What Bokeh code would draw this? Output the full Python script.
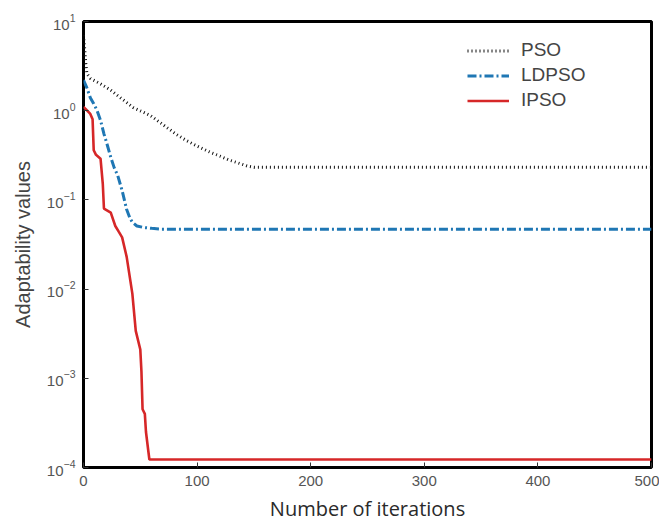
from bokeh.plotting import figure
from bokeh.models import FixedTicker, Range1d
from bokeh.embed import file_html
from bokeh.resources import INLINE

# Data
pso_iter = [0, 1, 2, 3, 6, 15, 24, 34, 44, 52, 59, 66, 74, 82, 91, 97, 103, 112, 120, 128, 136, 144, 150, 200, 300, 400, 500]
pso_val = [7.0, 5.0, 3.4, 2.6, 2.3, 2.0, 1.7, 1.35, 1.08, 0.97, 0.88, 0.76, 0.64, 0.54, 0.46, 0.42, 0.385, 0.34, 0.31, 0.28, 0.26, 0.24, 0.232, 0.232, 0.232, 0.232, 0.232]

ldpso_iter = [0, 3, 6, 9, 12, 15, 18, 21, 24, 27, 30, 34, 38, 41, 43, 47, 53, 60, 68, 100, 200, 300, 400, 500]
ldpso_val = [2.2, 1.8, 1.4, 1.2, 1.0, 0.78, 0.55, 0.41, 0.30, 0.23, 0.19, 0.127, 0.078, 0.062, 0.056, 0.051, 0.049, 0.048, 0.047, 0.047, 0.047, 0.047, 0.047, 0.047]

ipso_iter = [0, 2, 6, 8, 9, 11, 15, 17, 18, 21, 24, 28, 31, 34, 38, 43, 46, 50, 51, 52, 54, 55, 57, 58, 60, 100, 200, 300, 400, 500]
ipso_val = [1.1, 1.04, 0.92, 0.80, 0.36, 0.32, 0.29, 0.15, 0.080, 0.076, 0.072, 0.051, 0.044, 0.038, 0.023, 0.0089, 0.0034, 0.0021, 0.0012, 0.00045, 0.0004, 0.00025, 0.000155, 0.000123, 0.000123, 0.000123, 0.000123, 0.000123, 0.000123, 0.000123]

x_ticks = [0, 100, 200, 300, 400, 500]
y_ticks = [1e-4, 1e-3, 1e-2, 1e-1, 1e0, 1e1]

p = figure(
    frame_width=568, frame_height=446,
    min_border_left=83, min_border_right=8, min_border_top=21, min_border_bottom=50,
    y_axis_type="log",
    x_range=Range1d(0, 500), y_range=Range1d(1e-4, 10),
    output_backend="svg", toolbar_location=None,
)

p.line(pso_iter, pso_val, line_color="#111111", line_width=3, line_dash="1 3", legend_label="PSO")
p.line(ldpso_iter, ldpso_val, line_color="#1f77b4", line_width=3, line_dash="9 3 2 3", legend_label="LDPSO")
p.line(ipso_iter, ipso_val, line_color="#d62728", line_width=2.6, legend_label="IPSO")

p.grid.visible = False
p.outline_line_color = "black"
p.outline_line_width = 3
p.outline_line_alpha = 1.0

p.xaxis.ticker = FixedTicker(ticks=x_ticks)
p.yaxis.ticker = FixedTicker(ticks=y_ticks)
for ax in (p.xaxis, p.yaxis):
    ax.axis_line_color = None
    ax.major_tick_in = 5
    ax.major_tick_out = 0
    ax.major_tick_line_color = "#333333"
    ax.major_tick_line_width = 1
    ax.minor_tick_line_color = None
    ax.major_label_text_color = "#555555"
    ax.major_label_text_font = "Liberation Sans"
    ax.major_label_text_font_size = "15px"
    ax.major_label_standoff = 8

p.xaxis.axis_label = "Number of iterations"
p.xaxis.axis_label_text_font = "Open Sans"
p.xaxis.axis_label_text_font_size = "20px"
p.xaxis.axis_label_text_font_style = "normal"
p.xaxis.axis_label_text_color = "#2a2a2a"
p.xaxis.axis_label_standoff = 6

p.yaxis.axis_label = "Adaptability values"
p.yaxis.axis_label_text_font = "Liberation Sans"
p.yaxis.axis_label_text_font_size = "20px"
p.yaxis.axis_label_text_font_style = "normal"
p.yaxis.axis_label_text_color = "#444444"
p.yaxis.axis_label_standoff = 10

lg = p.legend[0]
lg.location = (384, 356)
lg.border_line_color = None
lg.background_fill_alpha = 0
lg.margin = 0
lg.padding = 0
lg.spacing = 3
lg.glyph_width = 42
lg.glyph_height = 21
lg.label_height = 21
lg.label_standoff = 12
lg.label_text_font = "Liberation Sans"
lg.label_text_font_size = "19px"
lg.label_text_color = "#444444"

open("out.html", "w").write(file_html(p, INLINE))
